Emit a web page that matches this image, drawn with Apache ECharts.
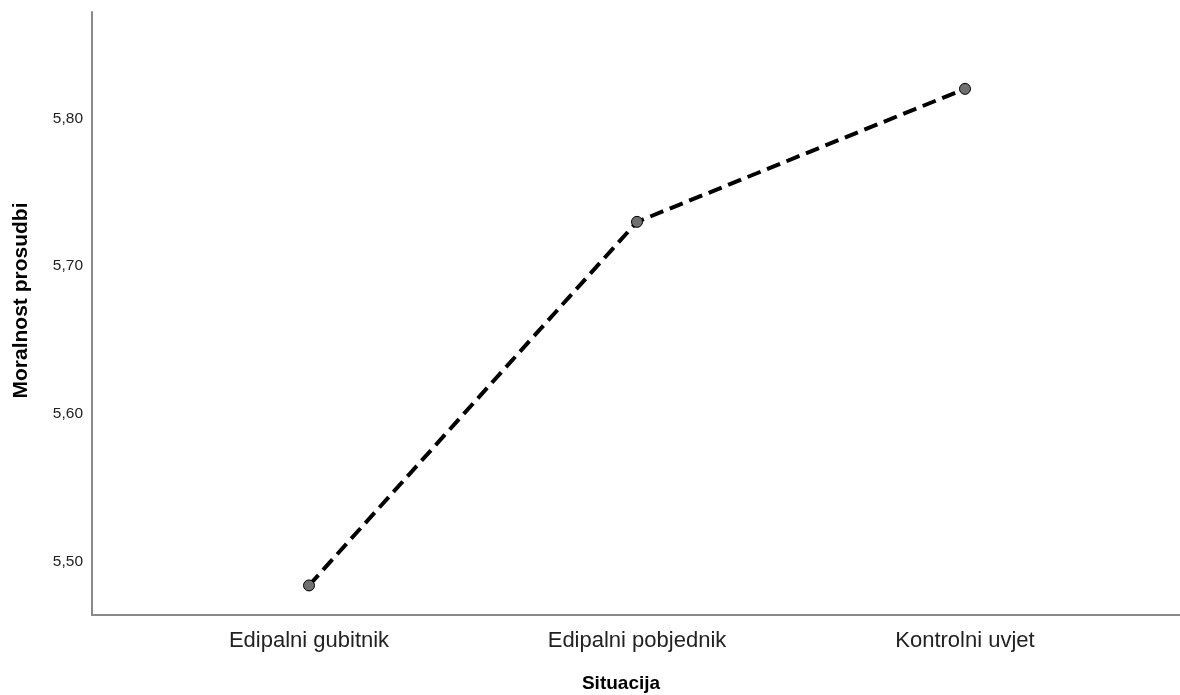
<!DOCTYPE html>
<html>
<head>
<meta charset="utf-8">
<script src="https://cdn.jsdelivr.net/npm/echarts@6/dist/echarts.min.js"></script>
<style>
html,body{margin:0;padding:0;background:#fff;}
#c{width:1180px;height:695px;}
</style>
</head>
<body>
<div id="c"></div>
<script>
const categories = ['Edipalni gubitnik', 'Edipalni pobjednik', 'Kontrolni uvjet'];
const values = [5.484, 5.730, 5.820];
const yTicks = [5.5, 5.6, 5.7, 5.8];
const xTicks = [0, 1, 2];

const chart = echarts.init(document.getElementById('c'), null, {renderer: 'canvas'});
const font = '"Liberation Sans", Arial, sans-serif';
chart.setOption({
  animation: false,
  grid: {left: 92, right: 0, top: 12, bottom: 80, containLabel: false, outerBoundsMode: 'none'},
  xAxis: {
    type: 'value',
    min: -0.6616,
    max: 2.6555,
    name: 'Situacija',
    nameLocation: 'middle',
    nameGap: 59,
    nameTextStyle: {fontFamily: font, fontSize: 19, fontWeight: 'bold', color: '#000', padding: [0, 30, 0, 0]},
    axisLine: {show: true, onZero: false, lineStyle: {color: '#888', width: 2}},
    axisTick: {show: false},
    splitLine: {show: false},
    axisLabel: {
      customValues: xTicks,
      margin: 15,
      fontFamily: font, fontSize: 22, color: '#222',
      formatter: v => categories[Math.round(v)]
    }
  },
  yAxis: {
    type: 'value',
    min: 5.464,
    max: 5.872,
    name: 'Moralnost prosudbi',
    nameLocation: 'middle',
    nameGap: 60,
    nameTextStyle: {fontFamily: font, fontSize: 21, fontWeight: 'bold', color: '#000', padding: [0, 0, 0, 26]},
    axisLine: {show: true, onZero: false, lineStyle: {color: '#888', width: 2}},
    axisTick: {show: false},
    splitLine: {show: false},
    axisLabel: {
      customValues: yTicks,
      margin: 9,
      fontFamily: font, fontSize: 15.5, color: '#222',
      formatter: v => v.toFixed(2).replace('.', ',')
    }
  },
  series: [{
    type: 'line',
    data: categories.map((c, i) => [i, values[i]]),
    symbol: 'circle',
    symbolSize: 11,
    itemStyle: {color: '#707070', borderColor: '#000', borderWidth: 1},
    lineStyle: {color: '#000', width: 4, type: [14, 7]},
    z: 3
  }]
});
</script>
</body>
</html>
